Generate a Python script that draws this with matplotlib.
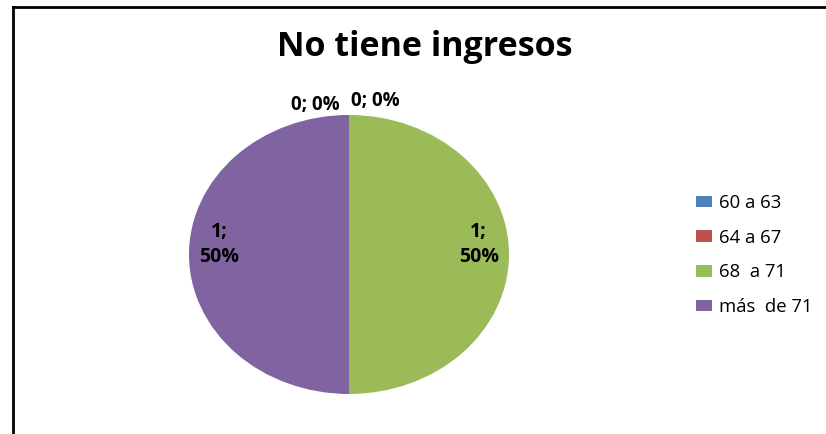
import numpy as np
import matplotlib.pyplot as plt
from matplotlib.lines import Line2D

plt.rcParams['font.family'] = ['Open Sans', 'DejaVu Sans']

# data
categories = ['60 a 63', '64 a 67', '68  a 71', 'más  de 71']
values = [0, 0, 1, 1]
colors = ['#4F81BD', '#C0504D', '#9BBB59', '#8064A2']
title = 'No tiene ingresos'

fig = plt.figure(figsize=(8.26, 4.34), dpi=100)

# pie is slightly wider than tall, so no equal aspect
ax = fig.add_axes([0.2288, 0.0922, 0.3874, 0.6429])
wedges, _ = ax.pie(values, colors=colors, startangle=90, counterclock=False,
                   wedgeprops=dict(linewidth=0))
ax.set_aspect('auto')
ax.set_xlim(-1, 1)
ax.set_ylim(-1, 1)
ax.axis('off')

# data labels "value; percent"
total = sum(values)
zero_shift = [-0.21, 0.165]
zi = 0
for w, v in zip(wedges, values):
    txt = f'{v}; {round(100 * v / total)}%'
    if v == 0:
        # zero slices: labels sit just above the top of the pie
        ax.text(zero_shift[zi], 1.1 - 0.03 * (1 - zi), txt, ha='center', va='center',
                fontsize=13.5, fontweight='bold', clip_on=False)
        zi += 1
    else:
        mid = np.deg2rad((w.theta1 + w.theta2) / 2)
        ax.text(0.81 * np.cos(mid), 0.81 * np.sin(mid) + 0.07,
                f'{v};\n{round(100 * v / total)}%', ha='center', va='center',
                fontsize=14, fontweight='bold', linespacing=1.3)

fig.text(425 / 826, 1 - 47 / 434, title, ha='center', va='center',
         fontsize=24.5, fontweight='bold')

leg = fig.legend(wedges, categories, loc='center left',
                 bbox_to_anchor=(696 / 826, 1 - 255 / 434),
                 frameon=False, fontsize=13.3, labelspacing=0.9,
                 handlelength=0.85, handleheight=0.6, handletextpad=0.4,
                 borderpad=0, borderaxespad=0)

# chart area border (only top and left visible in the crop)
fig.add_artist(Line2D([13 / 826, 1], [1 - 7 / 434] * 2, color='black', lw=2,
                      transform=fig.transFigure))
fig.add_artist(Line2D([13 / 826] * 2, [0, 1 - 7 / 434], color='black', lw=2,
                      transform=fig.transFigure))

fig.savefig('out.png', dpi=100)
